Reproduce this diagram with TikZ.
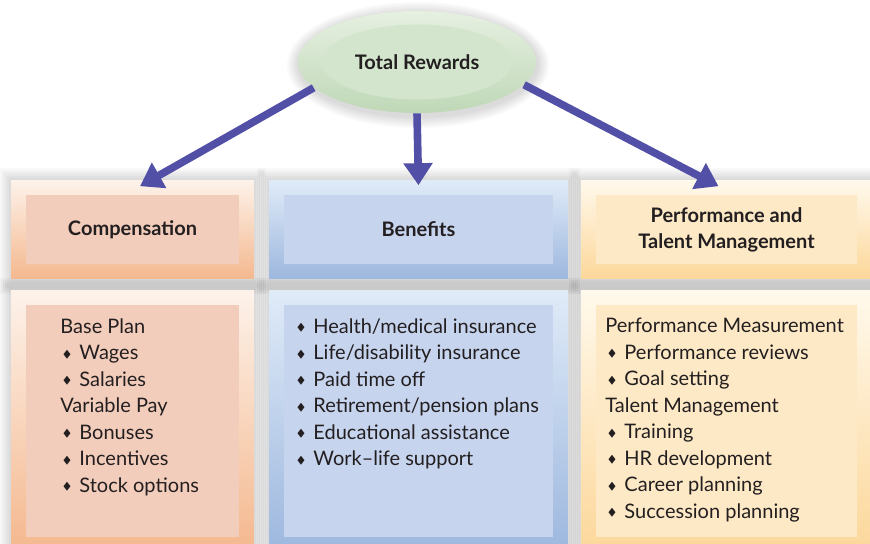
\documentclass[tikz,border=0pt]{standalone}
\usepackage{amssymb}
\usepackage{fontspec}
\setmainfont{Lato}
\usetikzlibrary{positioning,fit,backgrounds,shapes.geometric,arrows.meta}
\definecolor{txtcol}{HTML}{231F20}
\definecolor{arrcol}{HTML}{5250A6}
\definecolor{compin}{HTML}{F3CDBB}
\definecolor{comptop}{HTML}{FDF2EA}
\definecolor{compbot}{HTML}{F4B88E}
\definecolor{benein}{HTML}{C6D4EE}
\definecolor{benetop}{HTML}{E0EBF8}
\definecolor{benebot}{HTML}{9DB7DE}
\definecolor{perfin}{HTML}{FDE9C6}
\definecolor{perftop}{HTML}{FFF9EC}
\definecolor{perfbot}{HTML}{FCD79A}
\definecolor{elltop}{HTML}{E6F0E1}
\definecolor{ellbot}{HTML}{BFD8B7}
\definecolor{ellin}{HTML}{D3E5CD}
\newcommand{\bul}[1]{\hspace*{1pt}\raisebox{0.25ex}{\tiny$\blacklozenge$}\hspace{3.8pt}#1}
% soft glow round a box
\newcommand{\glow}[1]{\foreach \r in {2,4,...,12}
  {\fill[black,opacity=0.025] ([shift={(-\r,-\r)}]#1.north west) rectangle ([shift={(\r,\r+3)}]#1.south east);}}

\begin{document}
\begin{tikzpicture}[x=0.5pt, y=-0.5pt,
    every node/.style={text=txtcol, font=\fontsize{10}{13.25}\selectfont},
    head/.style={minimum height=34.5pt, align=center, font=\fontsize{10}{13}\selectfont\bfseries},
    listbox/.style={minimum height=116pt},
    frame/.style={inner sep=7pt},
    items/.style={anchor=north west, align=left, inner sep=0pt},
    link/.style={draw=arrcol, line width=3.8pt, -{Triangle[length=11pt,width=14pt]}}]
  \useasboundingbox (0,0) rectangle (870,544);
  % headers
  \node[head, fill=compin, minimum width=106.5pt] (comp) at (132.5,229.5) {Compensation};
  \node[head, fill=benein, minimum width=134.5pt] (bene) at (418.5,229.5) {Benefits};
  \node[head, fill=perfin, minimum width=130.5pt] (perf) at (726.5,229.5) {Performance and\\Talent Management};
  % lists
  \node[listbox, fill=compin, minimum width=106.5pt] (compList) at (132.5,421) {};
  \node[listbox, fill=benein, minimum width=134.5pt] (beneList) at (418.5,421) {};
  \node[listbox, fill=perfin, minimum width=130.5pt] (perfList) at (726.5,421) {};
  \begin{scope}[on background layer]
    \fill[white] (0,0) rectangle (870,544);
    \node[frame, fit=(comp)] (compBox) {};
    \node[frame, fit=(bene)] (beneBox) {};
    \node[frame, fit=(perf)] (perfBox) {};
    \node[frame, fit=(compList)] (compListBox) {};
    \node[frame, fit=(beneList)] (beneListBox) {};
    \node[frame, fit=(perfList)] (perfListBox) {};
    \foreach \b in {compBox,beneBox,perfBox,compListBox,beneListBox,perfListBox}
      {\glow{\b}}
    \shade[top color=comptop, bottom color=compbot] (compBox.north west) rectangle (compBox.south east);
    \shade[top color=benetop, bottom color=benebot] (beneBox.north west) rectangle (beneBox.south east);
    \shade[top color=perftop, bottom color=perfbot] (perfBox.north west) rectangle (perfBox.south east);
    \shade[top color=comptop, bottom color=compbot] (compListBox.north west) rectangle (compListBox.south east);
    \shade[top color=benetop, bottom color=benebot] (beneListBox.north west) rectangle (beneListBox.south east);
    \shade[top color=perftop, bottom color=perfbot] (perfListBox.north west) rectangle (perfListBox.south east);
  \end{scope}
  \node[items] (compItems) at (60,318) {Base Plan\\\bul{Wages}\\\bul{Salaries}\\Variable Pay\\
    \bul{Bonuses}\\\bul{Incentives}\\\bul{Stock options}};
  \node[items] (beneItems) at (294,318) {\bul{Health/medical insurance}\\\bul{Life/disability insurance}\\
    \bul{Paid time off}\\\bul{Retirement/pension plans}\\\bul{Educational assistance}\\\bul{Work--life support}};
  \node[items] (perfItems) at (605,318) {Performance Measurement\\\bul{Performance reviews}\\\bul{Goal setting}\\
    Talent Management\\\bul{Training}\\\bul{HR development}\\\bul{Career planning}\\\bul{Succession planning}};
  % top ellipse
  \foreach \r in {2,4,...,12}
    {\fill[black,opacity=0.025] (418,65) ellipse [x radius={59.5pt+0.5pt*\r}, y radius={25.5pt+0.5pt*\r}];}
  \node[ellipse, minimum width=119pt, minimum height=51pt, top color=elltop, bottom color=ellbot] (rewards) at (417,62) {};
  \node[ellipse, fill=ellin, inner sep=0pt, minimum width=95pt, minimum height=37.5pt,
    font=\fontsize{10}{13}\selectfont\bfseries] (rewardsIn) at (rewards) {Total Rewards};
  \draw[link] (rewards.194) -- ([xshift=3.75pt,yshift=-3pt]compBox.north);
  \draw[link] (rewards.south) -- ([yshift=-2.5pt]beneBox.north);
  \draw[link] (rewards.-12) -- ([xshift=-4pt,yshift=-3pt]perfBox.north);
\end{tikzpicture}
\end{document}
